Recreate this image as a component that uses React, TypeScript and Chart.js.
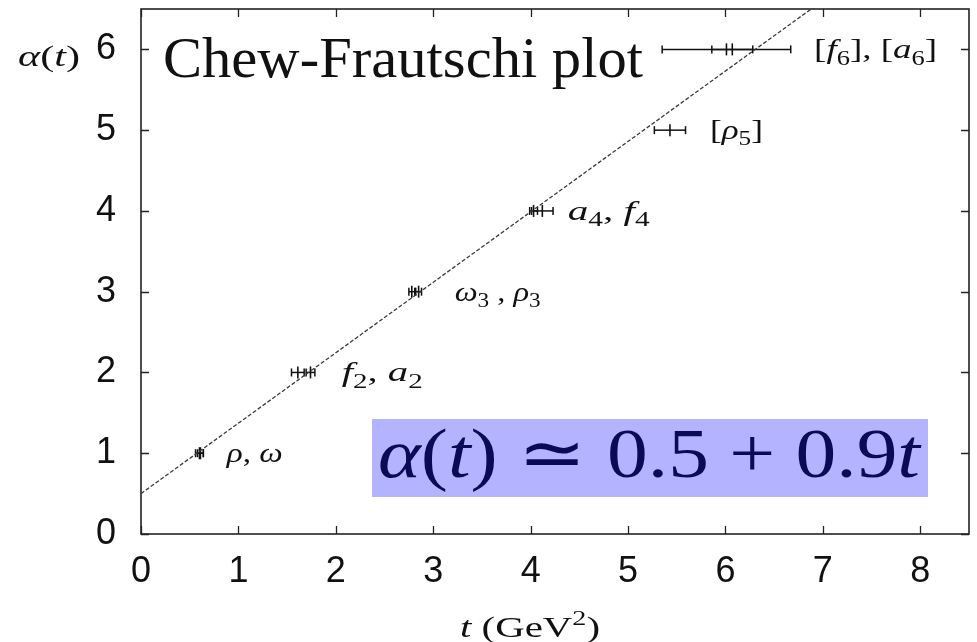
import React, { useEffect, useRef } from "react";
import { Chart, registerables } from "chart.js";

Chart.register(...registerables);

// Meson states on the leading Regge trajectory: spin α versus t = M² (GeV²)
const mesonNames = ["ρ", "ω", "f2", "a2", "ω3", "ρ3", "a4", "f4", "ρ5", "f6", "a6"];
const mesonT = [0.6, 0.61, 1.61, 1.74, 2.78, 2.85, 4.03, 4.12, 5.43, 6.07, 6.01];
const mesonTErr = [0.04, 0.03, 0.065, 0.045, 0.03, 0.03, 0.04, 0.11, 0.16, 0.21, 0.66];
const mesonSpin = [1, 1, 2, 2, 3, 3, 4, 4, 5, 6, 6];

// Linear trajectory α(t) ≃ 0.5 + 0.9 t (dashed)
const fitT = [0, 6.88];
const fitAlpha = [0.5, 6.5];

const xTickValues = [0, 1, 2, 3, 4, 5, 6, 7, 8];
const yTickValues = [0, 1, 2, 3, 4, 5, 6];

type Style = "i" | "r" | "sub" | "sup";
type Part = [string, Style];

// Group labels, placed at (t, α)
const groupLabels: Part[][] = [
  [["ρ", "i"], [", ", "r"], ["ω", "i"]],
  [["f", "i"], ["2", "sub"], [", ", "r"], ["a", "i"], ["2", "sub"]],
  [["ω", "i"], ["3", "sub"], [" , ", "r"], ["ρ", "i"], ["3", "sub"]],
  [["a", "i"], ["4", "sub"], [", ", "r"], ["f", "i"], ["4", "sub"]],
  [["[", "r"], ["ρ", "i"], ["5", "sub"], ["]", "r"]],
  [["[", "r"], ["f", "i"], ["6", "sub"], ["], [", "r"], ["a", "i"], ["6", "sub"], ["]", "r"]],
];
const groupLabelT = [0.88, 2.06, 3.22, 4.38, 5.84, 6.91];
const groupLabelAlpha = [1, 2, 3, 4, 5, 6];
const groupLabelWidth = [56, 81, 86, 82, 53, 123];

const titleText: Part[] = [["Chew-Frautschi plot", "r"]];
const formulaText: Part[] = [
  ["α", "i"], ["(", "r"], ["t", "i"], [")", "r"], [" ≃ ", "r"],
  ["0.5", "r"], [" + ", "r"], ["0.9", "r"], ["t", "i"],
];
const yTitle: Part[] = [["α", "i"], ["(", "r"], ["t", "i"], [")", "r"]];
const xTitle: Part[] = [["t", "i"], [" (GeV", "r"], ["2", "sup"], [")", "r"]];

const SERIF = '"Liberation Serif", "Times New Roman", serif';
const SANS = '"Liberation Sans", Arial, sans-serif';
const INK = "#111";

function fontFor(style: Style, size: number) {
  if (style === "i") return `italic ${size}px ${SERIF}`;
  if (style === "sub" || style === "sup") return `${Math.round(size * 0.7)}px ${SERIF}`;
  return `${size}px ${SERIF}`;
}

// Draws a run of mixed italic / roman / sub / superscript text starting at (x, baseline y)
function drawRich(
  ctx: CanvasRenderingContext2D,
  parts: Part[],
  x: number,
  y: number,
  size: number,
  color: string,
  fitWidth?: number
) {
  ctx.save();
  ctx.textBaseline = "alphabetic";
  ctx.textAlign = "left";
  let total = 0;
  const widths = parts.map(([txt, st]) => {
    ctx.font = fontFor(st, size);
    const w = ctx.measureText(txt).width;
    total += w;
    return w;
  });
  const sx = fitWidth ? fitWidth / total : 1;
  ctx.translate(x, y);
  ctx.scale(sx, 1);
  ctx.fillStyle = color;
  let cx = 0;
  parts.forEach(([txt, st], i) => {
    ctx.font = fontFor(st, size);
    let dy = 0;
    if (st === "sub") dy = size * 0.22;
    if (st === "sup") dy = -size * 0.4;
    ctx.fillText(txt, cx, dy);
    cx += widths[i];
  });
  ctx.restore();
}

const framePlugin = {
  id: "frame",
  beforeDatasetsDraw(chart: any) {
    const { ctx, chartArea: a, scales } = chart;
    const tick = 8;
    ctx.save();
    ctx.strokeStyle = "#222";
    ctx.lineWidth = 1.6;
    ctx.strokeRect(a.left, a.top, a.right - a.left, a.bottom - a.top);
    ctx.lineWidth = 1.3;
    ctx.beginPath();
    xTickValues.forEach((v) => {
      const px = Math.round(scales.x.getPixelForValue(v)) + 0.5;
      ctx.moveTo(px, a.bottom);
      ctx.lineTo(px, a.bottom - tick);
      ctx.moveTo(px, a.top);
      ctx.lineTo(px, a.top + tick);
    });
    yTickValues.forEach((v) => {
      const py = Math.round(scales.y.getPixelForValue(v)) + 0.5;
      ctx.moveTo(a.left, py);
      ctx.lineTo(a.left + tick, py);
      ctx.moveTo(a.right, py);
      ctx.lineTo(a.right - tick, py);
    });
    ctx.stroke();
    ctx.restore();
  },
};

const textPlugin = {
  id: "texts",
  afterDraw(chart: any) {
    const { ctx, chartArea: a, scales } = chart;
    const x = scales.x;
    const y = scales.y;

    // title inside the frame
    drawRich(ctx, titleText, a.left + 22, a.top + 68, 57, INK, 480);

    // group labels
    groupLabels.forEach((parts, i) => {
      drawRich(
        ctx,
        parts,
        x.getPixelForValue(groupLabelT[i]),
        y.getPixelForValue(groupLabelAlpha[i]) + 9,
        28,
        INK,
        groupLabelWidth[i]
      );
    });

    // formula box
    const bx0 = a.left + 231;
    const bx1 = a.left + 787;
    const by0 = a.bottom - 115;
    const by1 = a.bottom - 37;
    ctx.save();
    ctx.fillStyle = "#b3b3ff";
    ctx.fillRect(bx0, by0, bx1 - bx0, by1 - by0);
    ctx.restore();
    drawRich(ctx, formulaText, bx0 + 6, by1 - 20, 70, "#0a0a55", 542);

    // axis titles
    drawRich(ctx, yTitle, 18, 66, 30, INK, 62);
    drawRich(ctx, xTitle, 460, 637, 29, INK, 140);
  },
};

export default function App() {
  const ref = useRef<HTMLCanvasElement | null>(null);

  useEffect(() => {
    const canvas = ref.current;
    if (!canvas) return;

    const datasets: any[] = [
      {
        label: "trajectory",
        data: fitT.map((t, i) => ({ x: t, y: fitAlpha[i] })),
        showLine: true,
        borderColor: "#3a3a3a",
        borderWidth: 1.3,
        borderDash: [4, 2],
        pointRadius: 0,
      },
    ];

    mesonNames.forEach((name, i) => {
      datasets.push({
        label: name + " error",
        data: [
          { x: mesonT[i] - mesonTErr[i], y: mesonSpin[i] },
          { x: mesonT[i] + mesonTErr[i], y: mesonSpin[i] },
        ],
        showLine: true,
        borderColor: INK,
        borderWidth: 1.5,
        pointStyle: "line",
        rotation: 90,
        pointRadius: 4,
        pointBorderColor: INK,
        pointBorderWidth: 1.5,
      });
    });

    datasets.push({
      label: "mesons",
      data: mesonT.map((t, i) => ({ x: t, y: mesonSpin[i] })),
      showLine: false,
      pointStyle: "line",
      rotation: 90,
      pointRadius: 6,
      pointBorderColor: INK,
      pointBorderWidth: 1.6,
    });

    const chart = new Chart(canvas, {
      type: "scatter",
      data: { datasets },
      options: {
        animation: false,
        responsive: false,
        maintainAspectRatio: false,
        devicePixelRatio: 1,
        events: [],
        layout: { padding: { top: 9, right: 8, left: 0, bottom: 0 } },
        plugins: {
          legend: { display: false },
          tooltip: { enabled: false },
          title: { display: false },
        },
        scales: {
          x: {
            type: "linear",
            min: 0,
            max: 8.5,
            grid: { display: false, drawTicks: false },
            border: { display: false },
            ticks: {
              font: { family: SANS, size: 36 },
              color: INK,
              padding: 16,
              maxRotation: 0,
              autoSkip: false,
            },
            afterBuildTicks: (s: any) => {
              s.ticks = xTickValues.map((v) => ({ value: v }));
            },
            afterFit: (s: any) => {
              s.height = 108;
              s.paddingLeft = 0;
              s.paddingRight = 0;
            },
          },
          y: {
            type: "linear",
            min: 0,
            max: 6.5,
            grid: { display: false, drawTicks: false },
            border: { display: false },
            ticks: {
              font: { family: SANS, size: 36 },
              color: INK,
              padding: 25,
              autoSkip: false,
            },
            afterBuildTicks: (s: any) => {
              s.ticks = yTickValues.map((v) => ({ value: v }));
            },
            afterFit: (s: any) => {
              s.width = 141;
              s.paddingTop = 0;
              s.paddingBottom = 0;
            },
          },
        },
      } as any,
      plugins: [framePlugin, textPlugin],
    });

    return () => chart.destroy();
  }, []);

  return (
    <div style={{ position: "absolute", left: 0, top: 0, width: 977, height: 642, background: "#fff" }}>
      <canvas ref={ref} width={977} height={642} style={{ display: "block" }} />
    </div>
  );
}
